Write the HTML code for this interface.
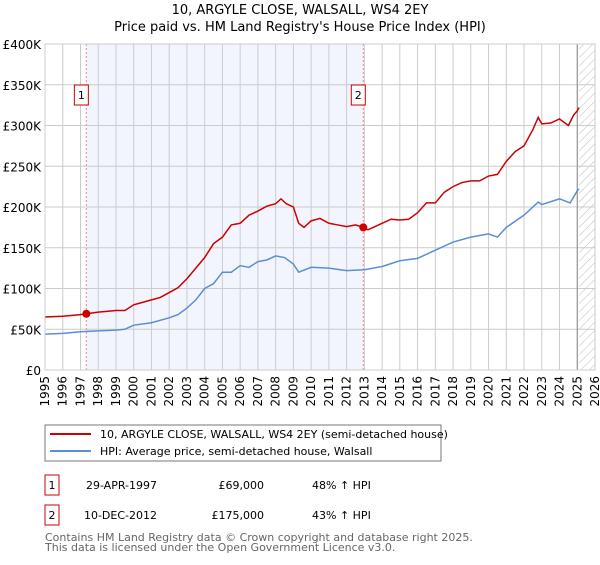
<!DOCTYPE html>
<html><head><meta charset="utf-8"><style>
body{margin:0;background:#fff;font-family:"Liberation Sans","DejaVu Sans",sans-serif;}
text{font-family:"DejaVu Sans","Liberation Sans",sans-serif;}
</style></head><body>
<svg id="c" width="600" height="560" viewBox="0 0 600 560">
<defs><pattern id="hatch" width="6" height="6" patternUnits="userSpaceOnUse" patternTransform="rotate(45)"><line x1="0" y1="0" x2="0" y2="6" stroke="#bbb" stroke-width="1"/></pattern></defs>
<text x="300" y="14" text-anchor="middle" font-size="13">10, ARGYLE CLOSE, WALSALL, WS4 2EY</text>
<text x="300" y="31" text-anchor="middle" font-size="13">Price paid vs. HM Land Registry's House Price Index (HPI)</text>
<g id="plot"></g>
<rect x="45" y="425" width="396" height="36" fill="#fff" stroke="#777"/>
<line x1="50" y1="434" x2="91" y2="434" stroke="#cc0000" stroke-width="2"/>
<text x="100" y="438" font-size="11">10, ARGYLE CLOSE, WALSALL, WS4 2EY (semi-detached house)</text>
<line x1="50" y1="451" x2="91" y2="451" stroke="#5b8fd4" stroke-width="2"/>
<text x="100" y="455" font-size="11">HPI: Average price, semi-detached house, Walsall</text>
<rect x="45" y="475" width="14" height="20" fill="#fff" stroke="#cc0000"/>
<text x="52" y="489" text-anchor="middle" font-size="11">1</text>
<text x="157" y="489" text-anchor="end" font-size="11">29-APR-1997</text>
<text x="264" y="489" text-anchor="end" font-size="11">£69,000</text>
<text x="312" y="489" font-size="11">48% ↑ HPI</text>
<rect x="45" y="505" width="14" height="20" fill="#fff" stroke="#cc0000"/>
<text x="52" y="519" text-anchor="middle" font-size="11">2</text>
<text x="157" y="519" text-anchor="end" font-size="11">10-DEC-2012</text>
<text x="264" y="519" text-anchor="end" font-size="11">£175,000</text>
<text x="312" y="519" font-size="11">43% ↑ HPI</text>
<text x="45" y="541" font-size="11" fill="#666">Contains HM Land Registry data © Crown copyright and database right 2025.</text>
<text x="45" y="551" font-size="11" fill="#666">This data is licensed under the Open Government Licence v3.0.</text>
</svg>
<script>
const yTicks=[0,50000,100000,150000,200000,250000,300000,350000,400000];
const yTickLabels=["£0","£50K","£100K","£150K","£200K","£250K","£300K","£350K","£400K"];
const xYears=[1995,1996,1997,1998,1999,2000,2001,2002,2003,2004,2005,2006,2007,2008,2009,2010,2011,2012,2013,2014,2015,2016,2017,2018,2019,2020,2021,2022,2023,2024,2025,2026];
const priceT=[1995,1996,1997,1997.33,1998,1999,1999.5,2000,2000.5,2001,2001.5,2002,2002.5,2003,2003.5,2004,2004.5,2005,2005.5,2006,2006.5,2007,2007.5,2008,2008.3,2008.6,2009,2009.3,2009.6,2010,2010.5,2011,2011.5,2012,2012.5,2012.94,2013.2,2013.6,2014,2014.5,2015,2015.5,2016,2016.5,2017,2017.5,2018,2018.5,2019,2019.5,2020,2020.5,2021,2021.5,2022,2022.5,2022.8,2023,2023.5,2024,2024.5,2024.8,2025,2025.1];
const priceV=[65,66,68,69,71,73,73,80,83,86,89,95,101,112,125,138,155,163,178,180,190,195,201,204,210,204,200,180,175,183,186,180,178,176,178,175,172,176,180,185,184,185,193,205,205,218,225,230,232,232,238,240,256,268,275,295,310,302,303,308,300,313,318,322];
const hpiT=[1995,1996,1997,1998,1999,1999.5,2000,2001,2002,2002.5,2003,2003.5,2004,2004.5,2005,2005.5,2006,2006.5,2007,2007.5,2008,2008.5,2009,2009.3,2010,2011,2012,2013,2014,2015,2016,2017,2018,2019,2020,2020.5,2021,2022,2022.8,2023,2024,2024.6,2025,2025.1];
const hpiV=[44,45,47,48,49,50,55,58,64,68,76,86,100,106,120,120,128,126,133,135,140,138,130,120,126,125,122,123,127,134,137,147,157,163,167,163,175,190,206,203,210,205,220,222];
const sales=[{t:1997.33,v:69000,n:"1"},{t:2012.94,v:175000,n:"2"}];
const L=45,R=595,T=44,B=370;
const X=t=>L+(t-1995)/(2026-1995)*(R-L);
const Y=v=>B-v/400000*(B-T);
const g=document.getElementById('plot');
const NS='http://www.w3.org/2000/svg';
function mk(tag,a){const e=document.createElementNS(NS,tag);for(const k in a)e.setAttribute(k,a[k]);g.appendChild(e);return e;}
let e;
e=mk('rect',{x:X(1997.33),y:T,width:X(2012.94)-X(1997.33),height:B-T,fill:'#f2f5fd'});


e=mk('rect',{x:X(2025.1),y:T,width:R-X(2025.1),height:B-T,fill:'url(#hatch)'});


yTicks.forEach((v,i)=>{
 e=mk('line',{x1:L,x2:R,y1:Y(v),y2:Y(v),stroke:'#ccc'});
 
 
 e=mk('text',{x:L-4,y:Y(v)+5,'text-anchor':'end','font-size':12});
 e.textContent=yTickLabels[i];
 
 
});
xYears.forEach(yr=>{
 e=mk('line',{x1:X(yr),x2:X(yr),y1:T,y2:B,stroke:'#ccc'});
 
 
 e=mk('text',{x:0,y:0,'text-anchor':'end','font-size':12,transform:`translate(${X(yr)+4},${B+6}) rotate(-90)`});
 e.textContent=yr;
 
 
});
e=mk('line',{x1:X(2025.0),x2:X(2025.0),y1:T,y2:B,stroke:'#888','stroke-width':1});


sales.forEach(s=>{
 e=mk('line',{x1:X(s.t),x2:X(s.t),y1:T,y2:B,stroke:'#e88','stroke-dasharray':'2,2'});
 
 
 e=mk('rect',{x:X(s.t)-12,y:85,width:14,height:20,fill:'#fff',stroke:'#cc0000'});
 
 
 e=mk('text',{x:X(s.t)-5,y:99,'text-anchor':'middle','font-size':11});
 e.textContent=s.n;
 
 
});
e=mk('polyline',{points:hpiT.map((t,i)=>X(t)+','+Y(hpiV[i]*1000)).join(' '),fill:'none',stroke:'#5b8fd4','stroke-width':1.5});


e=mk('polyline',{points:priceT.map((t,i)=>X(t)+','+Y(priceV[i]*1000)).join(' '),fill:'none',stroke:'#cc0000','stroke-width':1.5});


sales.forEach(s=>{
 e=mk('circle',{cx:X(s.t),cy:Y(s.v),r:4,fill:'#cc0000'});
 
 
});
e=mk('rect',{x:L,y:T,width:R-L,height:B-T,fill:'none',stroke:'#ccc'});


</script>
</body></html>
